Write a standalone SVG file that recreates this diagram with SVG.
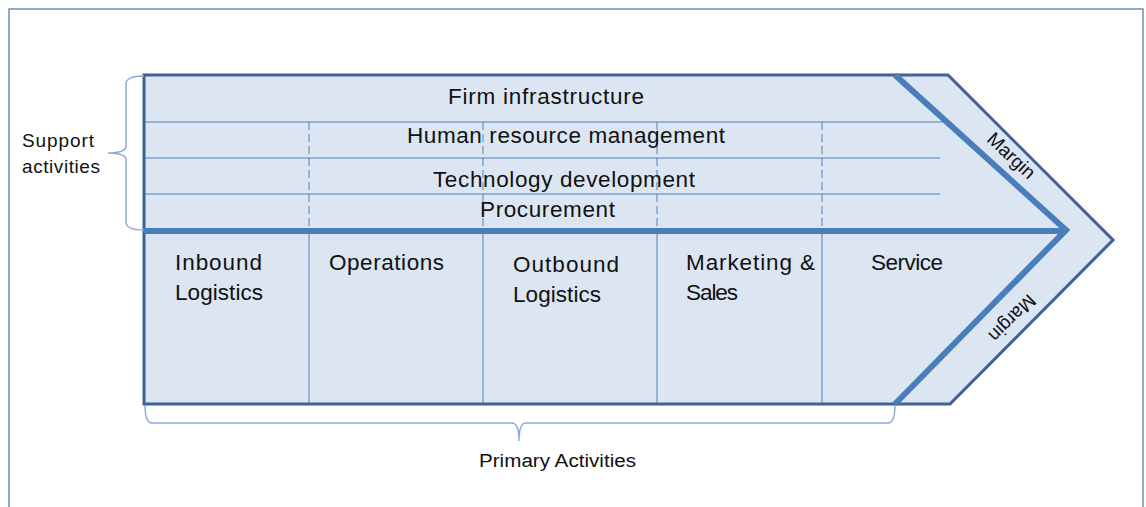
<svg xmlns="http://www.w3.org/2000/svg" width="1146" height="507" viewBox="0 0 1146 507">
<style>
.t{font-family:"Liberation Sans",Arial,sans-serif;fill:#111;}
.big{font-size:22.5px;}
.small{font-size:19px;}
.thin{stroke:#4F81BD;stroke-width:1;fill:none;}
.dash{stroke:#4F81BD;stroke-width:1;stroke-dasharray:8 4;fill:none;}
.thick{stroke:#4A7EBB;stroke-width:6;fill:none;}
.brace{stroke:#8EAADB;stroke-width:1.5;fill:none;}
</style>
<rect x="0" y="0" width="1146" height="507" fill="#ffffff"/>
<rect x="9" y="9" width="1134" height="520" fill="none" stroke="#6C8EBF" stroke-width="1.5"/>
<g id="chain">
<polygon points="144,75 948,75 1113,240 950,404 144,404" fill="#DCE6F2"/>
<path class="thin" d="M144,122H945M144,158H940M144,194H940"/>
<path class="dash" d="M309,122V228M483,122V228M657,122V228M822,122V228"/>
<path class="thin" d="M309,231V404M483,231V404M657,231V404M822,231V404"/>
<polygon points="144,75 948,75 1113,240 950,404 144,404" fill="none" stroke="#3F6194" stroke-width="3"/>
<path class="thick" d="M144,231H1066"/>
<path class="thick" d="M895,75L1066,230L895,404"/>
</g>
<g id="support">
<text class="t big" x="448" y="104" textLength="196">Firm infrastructure</text>
<text class="t big" x="407" y="143" textLength="318">Human resource management</text>
<text class="t big" x="433" y="187" textLength="262">Technology development</text>
<text class="t big" x="480" y="217" textLength="135">Procurement</text>
</g>
<g id="inbound"><text class="t big" x="175" y="270" textLength="87">Inbound</text><text class="t big" x="175" y="300" textLength="88">Logistics</text></g>
<g id="operations"><text class="t big" x="329" y="270" textLength="115">Operations</text></g>
<g id="outbound"><text class="t big" x="513" y="272" textLength="106">Outbound</text><text class="t big" x="513" y="302" textLength="88">Logistics</text></g>
<g id="marketing"><text class="t big" x="686" y="270" textLength="129">Marketing &amp;</text><text class="t big" x="686" y="300" textLength="52">Sales</text></g>
<g id="service"><text class="t big" x="871" y="270" textLength="72">Service</text></g>
<g id="margin-top"><text class="t" font-size="19" text-anchor="middle" transform="translate(1011,156) rotate(43)" y="6">Margin</text></g>
<g id="margin-bottom"><text class="t" font-size="19" text-anchor="middle" transform="translate(1012,318) rotate(135)" y="6">Margin</text></g>
<g id="connectors">
<path class="brace" d="M144,76Q126,76 126,84L126,146Q126,153 108,153Q126,153 126,160L126,222Q126,230 144,230"/>
<path class="brace" d="M145,405Q145,423 152,423L512,423Q519,423 519,441Q519,423 526,423L888,423Q895,423 895,405"/>
</g>
<g id="labels">
<text class="t small" x="22" y="147" textLength="72">Support</text>
<text class="t small" x="22" y="173" textLength="78">activities</text>
<text class="t" font-size="18" x="479" y="467" textLength="157" lengthAdjust="spacingAndGlyphs">Primary Activities</text>
</g>
</svg>
